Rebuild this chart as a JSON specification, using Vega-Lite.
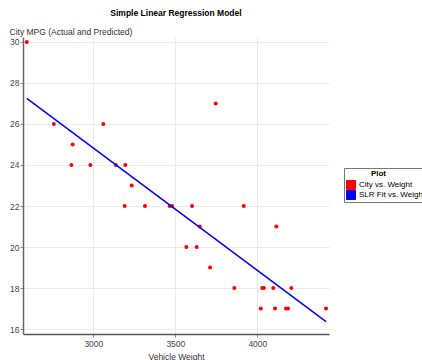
{
  "$schema": "https://vega.github.io/schema/vega-lite/v6.json",
  "width": 306,
  "height": 297,
  "autosize": {"type": "none"},
  "padding": {"left": 23, "top": 37, "right": 93, "bottom": 26},
  "background": "white",
  "config": {"font": "Liberation Sans", "view": {"stroke": null}},
  "title": {"text": "Simple Linear Regression Model", "fontSize": 8.5, "fontWeight": "bold", "color": "#000", "anchor": "middle", "offset": 10},
  "data": {"values": [
    {"weight": 2594, "mpg": 30, "series": "City vs. Weight"},
    {"weight": 2759, "mpg": 26, "series": "City vs. Weight"},
    {"weight": 2874, "mpg": 25, "series": "City vs. Weight"},
    {"weight": 2866, "mpg": 24, "series": "City vs. Weight"},
    {"weight": 2982, "mpg": 24, "series": "City vs. Weight"},
    {"weight": 3061, "mpg": 26, "series": "City vs. Weight"},
    {"weight": 3137, "mpg": 24, "series": "City vs. Weight"},
    {"weight": 3195, "mpg": 24, "series": "City vs. Weight"},
    {"weight": 3234, "mpg": 23, "series": "City vs. Weight"},
    {"weight": 3191, "mpg": 22, "series": "City vs. Weight"},
    {"weight": 3315, "mpg": 22, "series": "City vs. Weight"},
    {"weight": 3465, "mpg": 22, "series": "City vs. Weight"},
    {"weight": 3480, "mpg": 22, "series": "City vs. Weight"},
    {"weight": 3602, "mpg": 22, "series": "City vs. Weight"},
    {"weight": 3649, "mpg": 21, "series": "City vs. Weight"},
    {"weight": 3567, "mpg": 20, "series": "City vs. Weight"},
    {"weight": 3630, "mpg": 20, "series": "City vs. Weight"},
    {"weight": 3712, "mpg": 19, "series": "City vs. Weight"},
    {"weight": 3746, "mpg": 27, "series": "City vs. Weight"},
    {"weight": 3917, "mpg": 22, "series": "City vs. Weight"},
    {"weight": 4116, "mpg": 21, "series": "City vs. Weight"},
    {"weight": 3860, "mpg": 18, "series": "City vs. Weight"},
    {"weight": 4030, "mpg": 18, "series": "City vs. Weight"},
    {"weight": 4040, "mpg": 18, "series": "City vs. Weight"},
    {"weight": 4097, "mpg": 18, "series": "City vs. Weight"},
    {"weight": 4207, "mpg": 18, "series": "City vs. Weight"},
    {"weight": 4021, "mpg": 17, "series": "City vs. Weight"},
    {"weight": 4108, "mpg": 17, "series": "City vs. Weight"},
    {"weight": 4175, "mpg": 17, "series": "City vs. Weight"},
    {"weight": 4187, "mpg": 17, "series": "City vs. Weight"},
    {"weight": 4419, "mpg": 17, "series": "City vs. Weight"},
    {"weight": 2594, "mpg": 27.25, "series": "SLR Fit vs. Weight"},
    {"weight": 4419, "mpg": 16.36, "series": "SLR Fit vs. Weight"}
  ]},
  "encoding": {
    "x": {
      "field": "weight", "type": "quantitative",
      "scale": {"domain": [2571, 4437], "nice": false, "zero": false},
      "axis": {
        "title": "Vehicle Weight", "values": [3000, 3500, 4000], "format": "d",
        "titleFontSize": 8.5, "titleFontWeight": "normal", "titleColor": "#333",
        "titleBaseline": "middle", "titleY": 22,
        "labelFontSize": 8.5, "labelColor": "#444", "labelPadding": 2,
        "tickSize": 3, "tickColor": "#888",
        "domainColor": "#555", "domainWidth": 1.5,
        "gridColor": "#ebebeb", "gridWidth": 1
      }
    },
    "y": {
      "field": "mpg", "type": "quantitative",
      "scale": {"domain": [15.76, 30.24], "nice": false, "zero": false},
      "axis": {
        "title": "City MPG (Actual and Predicted)", "values": [16, 18, 20, 22, 24, 26, 28, 30],
        "titleAngle": 0, "titleAlign": "left", "titleBaseline": "middle",
        "titleX": -14, "titleY": -6,
        "titleFontSize": 8.5, "titleFontWeight": "normal", "titleColor": "#333",
        "labelFontSize": 8.5, "labelColor": "#444", "labelPadding": 1,
        "tickSize": 3, "tickColor": "#888",
        "domainColor": "#666", "domainWidth": 1.5,
        "gridColor": "#ebebeb", "gridWidth": 1
      }
    },
    "color": {
      "field": "series", "type": "nominal",
      "scale": {"domain": ["City vs. Weight", "SLR Fit vs. Weight"], "range": ["#ff0000", "#0000ff"]},
      "legend": {
        "orient": "none", "legendX": 321, "legendY": 131,
        "title": "Plot", "titleFontSize": 8, "titleFontWeight": "bold", "titleAnchor": "middle", "titleAlign": "right", "titleColor": "#000", "titlePadding": 2,
        "labelFontSize": 8, "labelColor": "#000", "labelOffset": 3,
        "symbolType": "square", "symbolSize": 81, "symbolStrokeColor": "#333", "symbolStrokeWidth": 1, "symbolOpacity": 1,
        "clipHeight": 10,
        "fillColor": "white", "strokeColor": "#777", "padding": 2, "rowPadding": 0
      }
    }
  },
  "layer": [
    {
      "transform": [{"filter": {"field": "series", "equal": "City vs. Weight"}}],
      "mark": {"type": "point", "filled": true, "shape": "circle", "size": 16, "opacity": 1}
    },
    {
      "transform": [{"filter": {"field": "series", "equal": "SLR Fit vs. Weight"}}],
      "mark": {"type": "line", "strokeWidth": 1.5}
    }
  ]
}
